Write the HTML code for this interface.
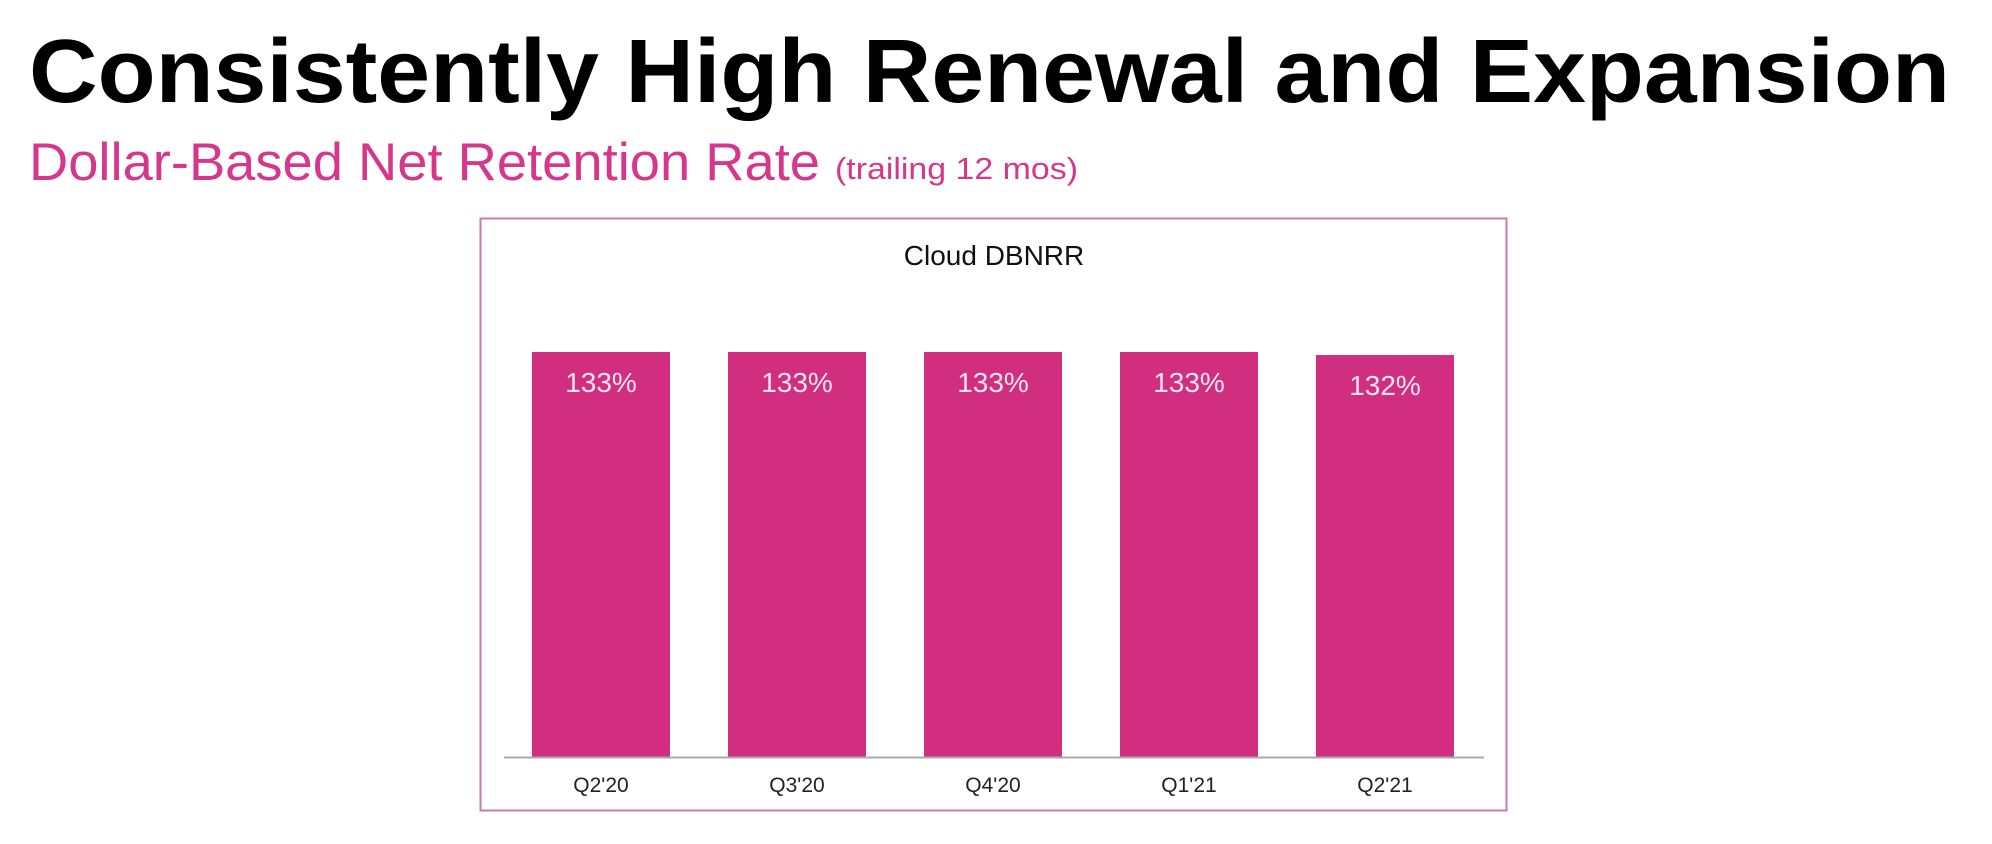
<!DOCTYPE html>
<html><head><meta charset="utf-8"><style>
html,body{margin:0;padding:0;background:#fff;width:1992px;height:844px;overflow:hidden}
svg{display:block}
text{font-family:"Liberation Sans",Arial,sans-serif}
</style></head><body>
<svg id="chart" width="1992" height="844" viewBox="0 0 1992 844">
<text x="29" y="102" font-size="90" font-weight="bold" fill="#000" textLength="1921" lengthAdjust="spacingAndGlyphs">Consistently High Renewal and Expansion</text>
<text x="29" y="180" font-size="53" fill="#d6378c" textLength="791" lengthAdjust="spacingAndGlyphs">Dollar-Based Net Retention Rate</text>
<text x="835" y="179" font-size="31" fill="#d6378c" textLength="243" lengthAdjust="spacingAndGlyphs">(trailing 12 mos)</text>
<rect x="480.5" y="218.5" width="1026" height="592" fill="#fff" stroke="#c77ab0" stroke-width="2"/>
<text x="994" y="265" font-size="28" fill="#111" text-anchor="middle">Cloud DBNRR</text>
<g id="bars"></g>
<line x1="504" y1="757.5" x2="1484" y2="757.5" stroke="#aaa" stroke-width="2"/>
<g id="labels"></g>
</svg>
<script>
const categories = ["Q2'20","Q3'20","Q4'20","Q1'21","Q2'21"];
const values = [133,133,133,133,132];
const valueLabels = ["133%","133%","133%","133%","132%"];

const NS="http://www.w3.org/2000/svg";
const plotLeft=504, plotRight=1484, baseY=757, plotTop=352, yMax=133;
const step=(plotRight-plotLeft)/categories.length;
const barW=138;
function xCenter(i){return plotLeft+step*(i+0.5)-1;}
function yScale(v){return baseY-(v/yMax)*(baseY-plotTop);}
const gb=document.getElementById('bars'), gl=document.getElementById('labels');
categories.forEach((c,i)=>{
  const r=document.createElementNS(NS,'rect');
  const y=yScale(values[i]);
  r.setAttribute('x',xCenter(i)-barW/2);r.setAttribute('y',y);
  r.setAttribute('width',barW);r.setAttribute('height',baseY-y);
  r.setAttribute('fill','#d12e80');
  
  
  gb.appendChild(r);
  const t=document.createElementNS(NS,'text');
  t.setAttribute('x',xCenter(i));t.setAttribute('y',y+40);
  t.setAttribute('font-size','28');t.setAttribute('fill','#fbe3ef');
  t.setAttribute('text-anchor','middle');
  t.textContent=valueLabels[i];
  
  
  gb.appendChild(t);
  const xl=document.createElementNS(NS,'text');
  xl.setAttribute('x',xCenter(i));xl.setAttribute('y',792);
  xl.setAttribute('font-size','21');xl.setAttribute('fill','#222');
  xl.setAttribute('text-anchor','middle');
  xl.textContent=c;
  
  
  gl.appendChild(xl);
});
</script>
</body></html>
